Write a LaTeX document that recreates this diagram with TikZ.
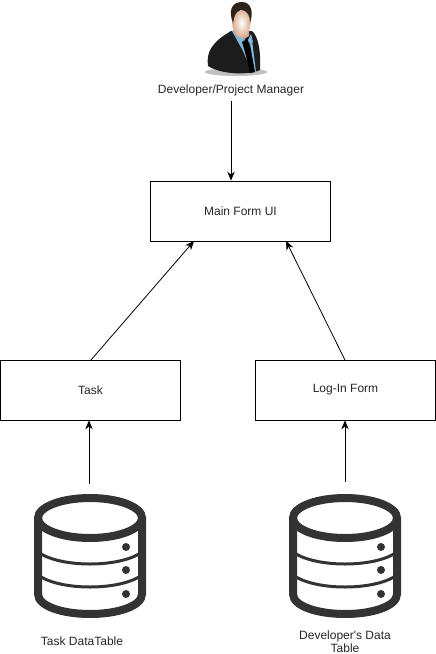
\documentclass[tikz,border=0pt]{standalone}
\usepackage{fontspec}
\setmainfont{Liberation Sans}
\newfontfamily\plainsans{Liberation Sans}
\usetikzlibrary{arrows.meta}
\definecolor{dbink}{HTML}{333333}
\definecolor{suit}{HTML}{1C1C1C}
\definecolor{shirt}{HTML}{7FB6DC}
\definecolor{skin}{HTML}{D9A988}
\definecolor{hair}{HTML}{2E241C}
\tikzset{
  x=1pt,y=-1pt,
  lab/.style={font=\plainsans\fontsize{12}{13.5}\selectfont,text=black!85,align=center,inner sep=0pt},
  box/.style={lab,draw=black,line width=0.8pt,minimum width=180pt,minimum height=60pt,inner sep=0pt,fill=white},
  conn/.style={draw=black,line width=0.8pt,-{Stealth[length=9pt,width=7.5pt]}},
  dbthick/.style={draw=dbink,line width=8pt},
  dbthin/.style={draw=dbink,line width=3pt},
  dbicon/.pic={
    \draw[dbthin] (-52,34) .. controls (-30,50) and (30,50) .. (52,34);
    \draw[dbthin] (-52,57) .. controls (-30,73) and (30,73) .. (52,57);
    \draw[dbthick] (-52,0) -- (-52,76) .. controls (-52,88) and (-28,96) .. (0,96) .. controls (28,96) and (52,88) .. (52,76) -- (52,0);
    \draw[dbthick] (0,0) ellipse [x radius=52pt,y radius=20pt];
    \fill[dbink] (36,29) circle [radius=4pt] (36,52) circle [radius=4pt] (36,76) circle [radius=4pt];
  }
}
\begin{document}
\begin{tikzpicture}
\useasboundingbox (0,0) rectangle (436,654);
% person
\fill[black!25] (236,72) ellipse [x radius=31pt,y radius=4pt];
\fill[suit] (208,66) .. controls (206,52) and (212,42) .. (231,31) -- (252,31) .. controls (258,36) and (261,50) .. (260,70) .. controls (250,75) and (222,75) .. (208,66) -- cycle;
\fill[skin] (234,22) -- (233,33) -- (241,41) -- (249,36) -- (249,22) -- cycle;
\fill[shirt] (232,31) -- (236,29) -- (247,42) -- (252,40) -- (256,72) -- (252,72) -- (243,51) -- cycle;
\fill[shirt] (247,42) -- (251,34) -- (253,42) -- cycle;
\fill[black] (242,42) -- (247,39) -- (250,45) -- (255,72) -- (250,73) -- (245,52) -- cycle;
\shade[inner color=white,outer color=skin] (232,18) .. controls (232,30) and (236,38) .. (241,38) .. controls (247,38) and (251,30) .. (251,16) .. controls (250,8) and (234,8) .. (232,18) -- cycle;
\fill[hair] (233,23) .. controls (228,10) and (232,2) .. (242,2) .. controls (251,2) and (254,12) .. (250,23) .. controls (250,15) and (248,11) .. (241,10) .. controls (236,11) and (234,16) .. (233,23) -- cycle;
\node[lab] (pm) at (231,90.5) {Developer/Project Manager};
\coordinate (pmout) at (231,101);
% boxes
\node[box] (main) at (240.5,211) {Main Form UI};
\node[box] (task) at (90.5,390) {Task};
\node[box] (login) at (345.5,390) {Log-In Form};
% databases
\pic at (90,518) {dbicon};
\pic at (345,518) {dbicon};
\coordinate (db1) at (89,484);
\coordinate (db2) at (345,482);
\node[lab] (db1lab) at (82,641.5) {Task DataTable};
\node[lab] (db2lab) at (345,641.5) {Developer's Data\\Table};
% connectors
\draw[conn] (pmout) -- (main.north -| pmout);
\coordinate (mainl) at (194,241);
\coordinate (mainr) at (286,241);
\coordinate (taskt) at (91,360);
\coordinate (logint) at (345,360);
\draw[conn] (taskt) -- (mainl);
\draw[conn] (logint) -- (mainr);
\draw[conn] (db1) -- (task.south -| db1);
\draw[conn] (db2) -- (login.south -| db2);
\end{tikzpicture}
\end{document}
